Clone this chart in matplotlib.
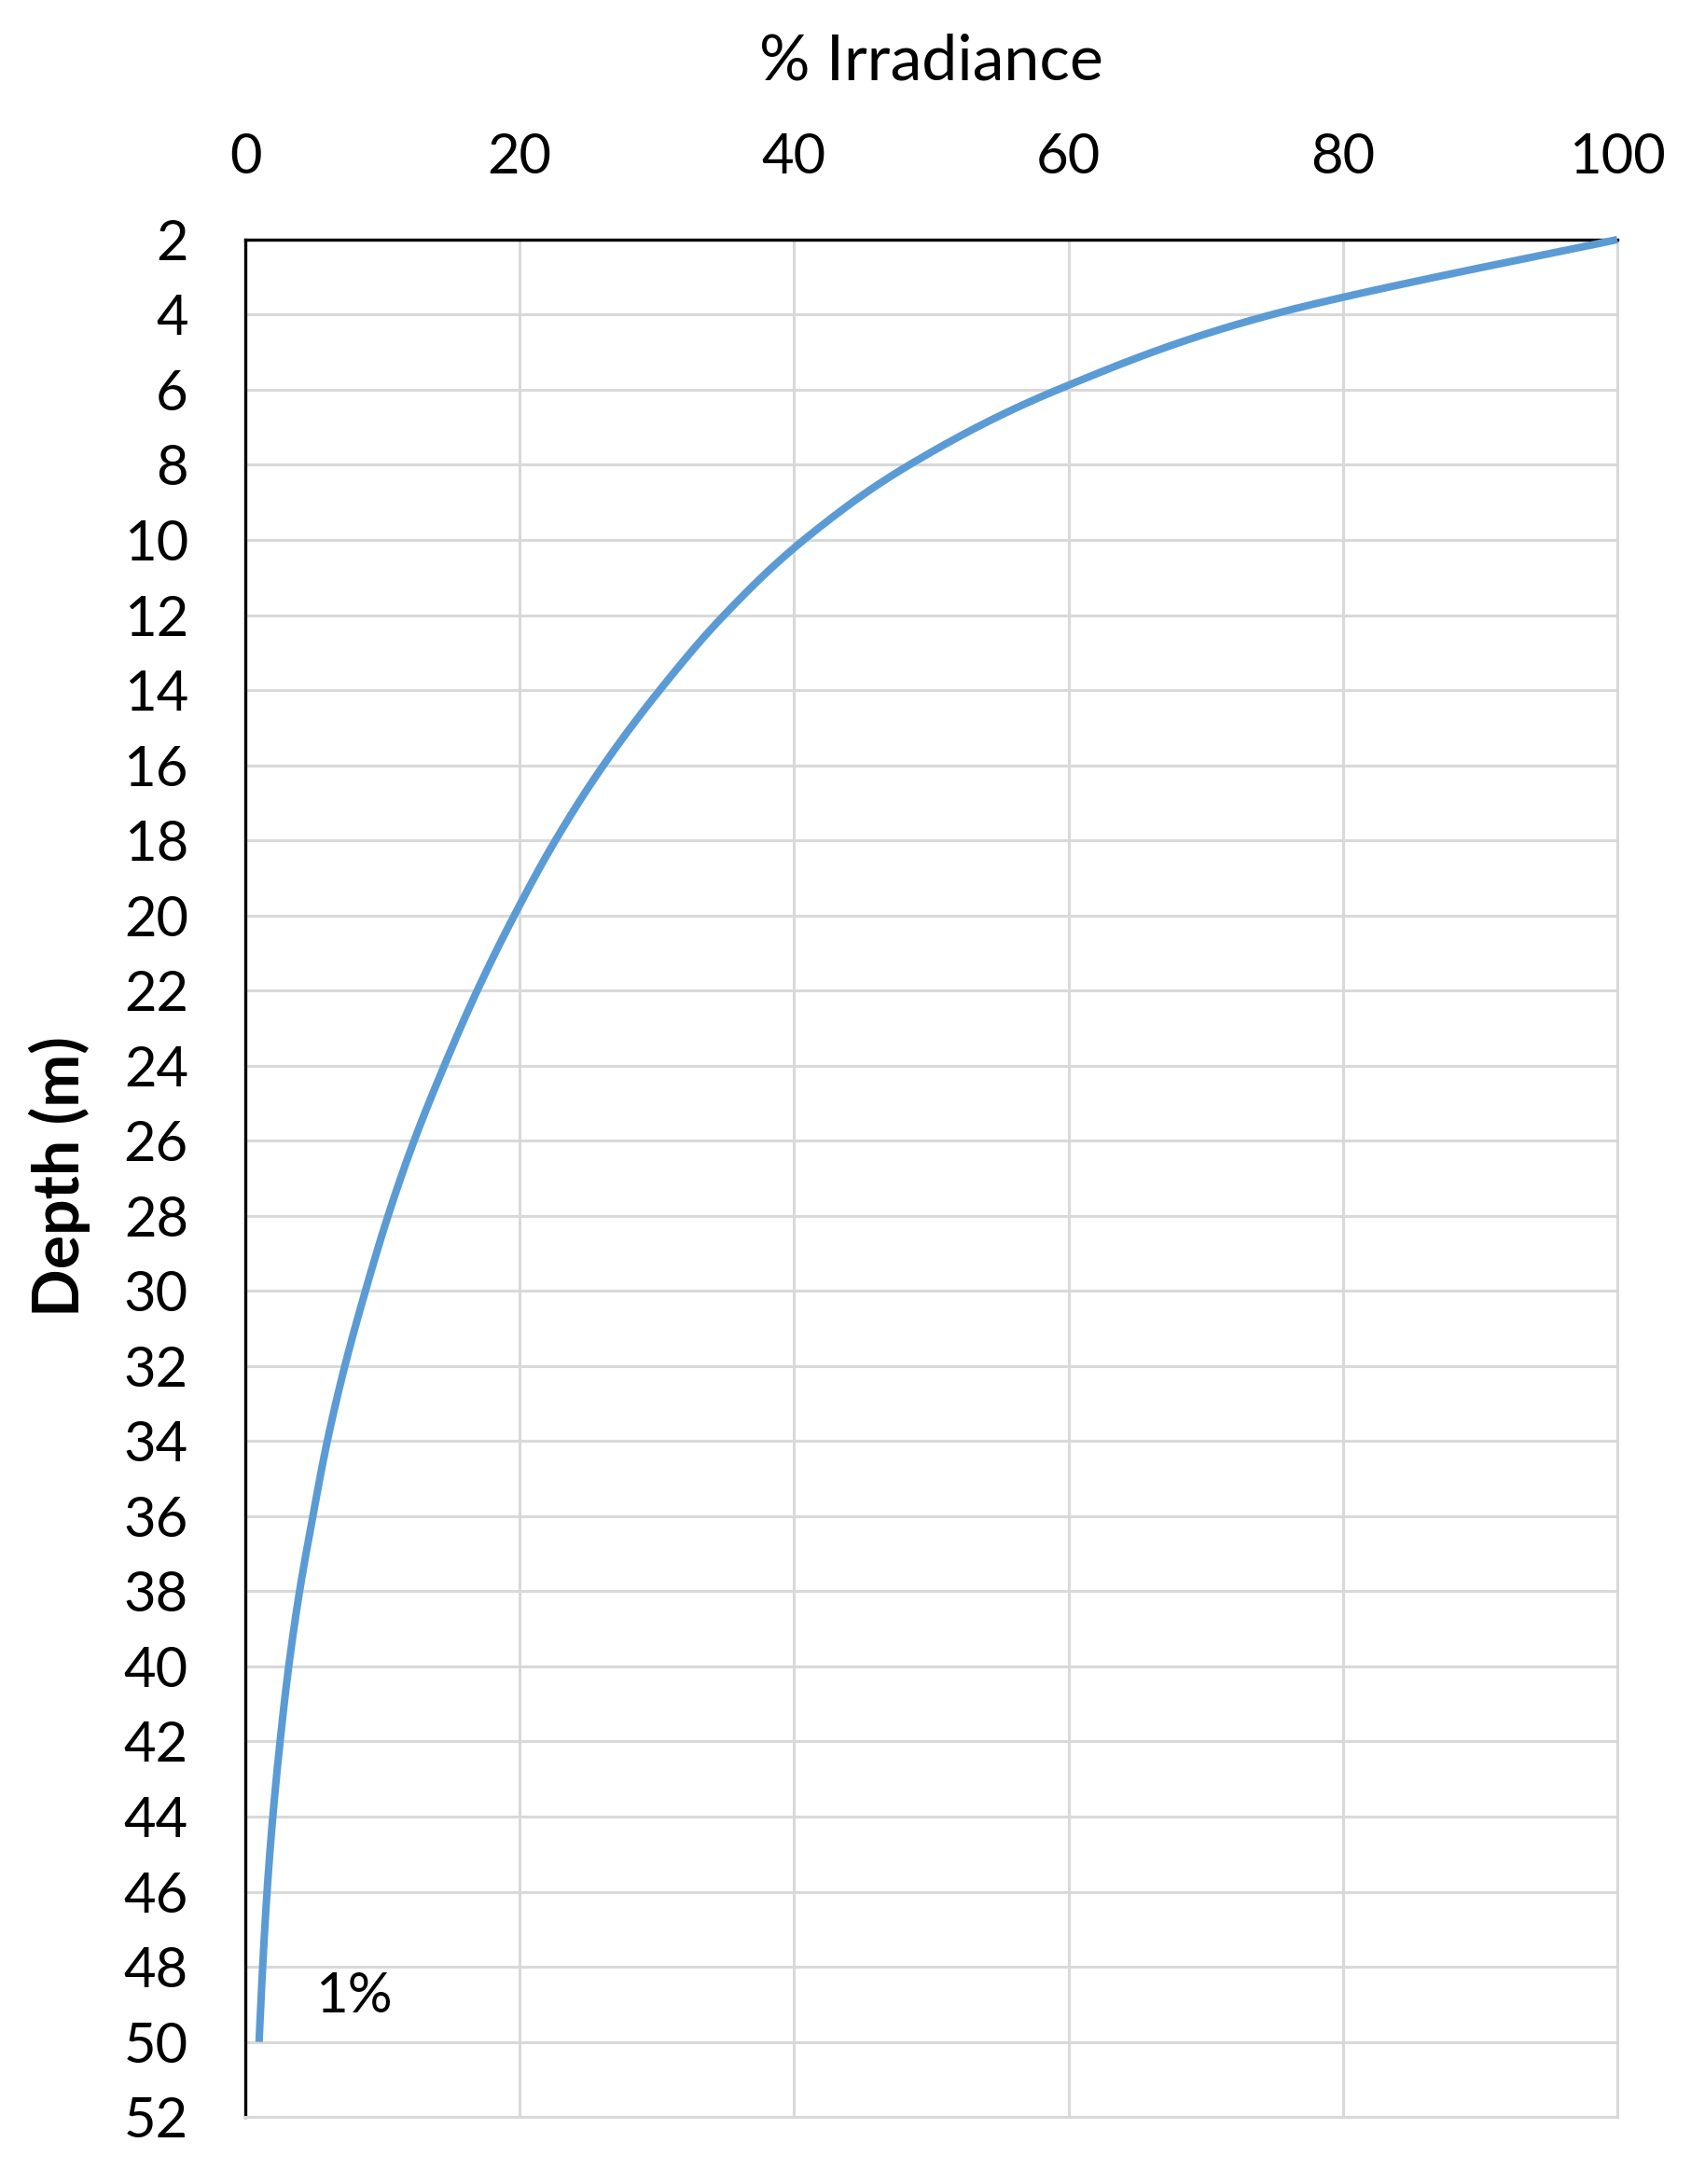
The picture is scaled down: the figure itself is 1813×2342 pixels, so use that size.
import numpy as np
import matplotlib.pyplot as plt

# depth (m) vs % irradiance
depth = [2, 4, 6, 8, 10, 12, 14, 16, 18, 20, 22, 24, 26,
         28, 30, 32, 34, 36, 38, 40, 42, 44, 46, 48, 50]
irradiance = [100, 74.8, 59.2, 48.4, 40.7, 34.9, 30.2, 26.1, 22.6, 19.6,
              16.9, 14.5, 12.3, 10.4, 8.75, 7.25, 5.97, 4.92, 3.95, 3.16,
              2.53, 2.0, 1.58, 1.26, 1.0]

x_ticks = [0, 20, 40, 60, 80, 100]
y_ticks = list(range(2, 53, 2))


def smooth(xs, ys, n=30):
    # spreadsheet-style smoothed line: bezier segments, control points at 1/6
    p = np.column_stack([xs, ys]).astype(float)
    out = [p[0]]
    t = np.linspace(0, 1, n)[1:, None]
    for i in range(len(p) - 1):
        p0 = p[i - 1] if i > 0 else p[i]
        p3 = p[i + 2] if i + 2 < len(p) else p[i + 1]
        c1 = p[i] + (p[i + 1] - p0) / 6
        c2 = p[i + 1] - (p3 - p[i]) / 6
        seg = ((1 - t) ** 3 * p[i] + 3 * (1 - t) ** 2 * t * c1
               + 3 * (1 - t) * t ** 2 * c2 + t ** 3 * p[i + 1])
        out.extend(seg)
    out = np.array(out)
    return out[:, 0], out[:, 1]


plt.rcParams['font.family'] = ['Lato', 'DejaVu Sans']

fig = plt.figure(figsize=(18.13, 23.42), dpi=100)
ax = fig.add_axes([0.1451, 0.0307, 0.8113, 0.8596])

sx, sy = smooth(irradiance, depth)
ax.plot(sx, sy, color='#5B9BD5', lw=5.8, solid_capstyle='butt',
        clip_on=False, zorder=3)

ax.set_xlim(0, 100)
ax.set_ylim(52, 2)
ax.set_xticks(x_ticks)
ax.set_yticks(y_ticks)
ax.xaxis.tick_top()
ax.tick_params(axis='both', length=0, labelsize=43, colors='black')
ax.tick_params(axis='x', pad=44)
ax.tick_params(axis='y', pad=44)

ax.grid(True, color='#D9D9D9', lw=2.2, zorder=0)
ax.set_axisbelow(True)

for side in ['top', 'left']:
    ax.spines[side].set_color('black')
    ax.spines[side].set_linewidth(2.4)
for side in ['right', 'bottom']:
    ax.spines[side].set_color('#D9D9D9')
    ax.spines[side].set_linewidth(2.2)

fig.text(998 / 1813, 1 - 66 / 2342, '% Irradiance', fontsize=49,
         ha='center', va='center')
fig.text(64 / 1813, 1 - 1262 / 2342, 'Depth (m)', fontsize=49,
         fontweight='bold', rotation=90, ha='center', va='center')

ax.text(5.1, 48.8, '1%', fontsize=43, ha='left', va='center')

fig.savefig('out.png', dpi=100)
